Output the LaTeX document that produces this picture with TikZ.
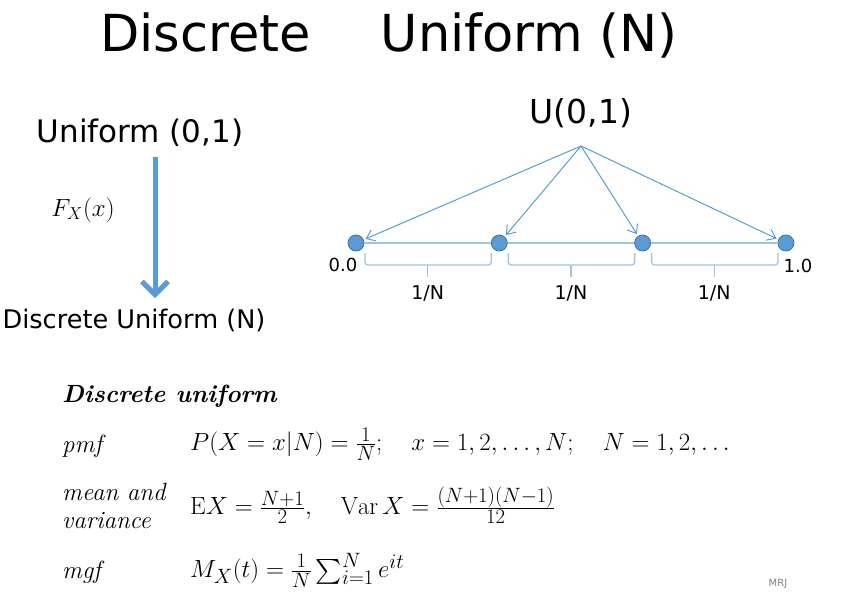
\documentclass[tikz,border=0pt]{standalone}
\usepackage{exscale}
\usepackage{fontspec}
\newfontfamily\verd{DejaVu Sans}
\usetikzlibrary{arrows.meta,calc}
\definecolor{arrblue}{HTML}{5B9BD5}
\definecolor{dotedge}{HTML}{41719C}
\definecolor{lineblue}{HTML}{9DC3E6}
\begin{document}
\begin{tikzpicture}[
        x=1pt, y=-1pt,
        node distance=143.3pt,
        titletxt/.style={font=\verd\fontsize{51}{56}\selectfont},
        sanstxt/.style={font=\verd\fontsize{25.6}{30}\selectfont},
        smalltxt/.style={font=\verd\fontsize{18}{21}\selectfont},
        cmtxt/.style={font=\fontsize{24.88}{28}\selectfont, inner sep=0pt, anchor=west},
        ptdot/.style={circle, fill=arrblue, draw=dotedge, line width=0.8pt, minimum size=16pt, inner sep=0pt},
        segline/.style={draw=lineblue, line width=2pt},
        sharr/.style={-{Straight Barb[length=8pt,width=12pt]}, draw=arrblue, line width=1pt, shorten >=2pt},
        bigarr/.style={-{Straight Barb[length=13pt,width=26pt]}, draw=arrblue, line width=5pt},
        brc/.style={draw=lineblue, line width=1.3pt, rounded corners=3pt}
    ]
        \useasboundingbox (0,0) rectangle (841,605);

        % Title
        \node[titletxt] (title) at (389,35) {Discrete\hspace{70pt}Uniform (N)};

        % Left: transformation
        \node[sanstxt, font=\verd\fontsize{31}{35}\selectfont] (unif) at (140,133) {Uniform (0,1)};
        \node[sanstxt] (disc) at (134,320) {Discrete Uniform (N)};
        \node[font=\fontsize{24}{28}\selectfont] (fx) at (83,210) {$F_X(x)$};
        \coordinate (arrtop) at (155,157);
        \coordinate (arrbot) at (155,298);
        \draw[bigarr] (arrtop) -- (arrbot);

        % Right: points on the unit interval
        \node[font=\verd\fontsize{33}{38}\selectfont] (u01) at (581,113) {U(0,1)};
        \coordinate (apex) at (581,146);
        \node[ptdot] (p0) at (356,243) {};
        \node[ptdot, right of=p0] (p1) {};
        \node[ptdot, right of=p1] (p2) {};
        \node[ptdot, right of=p2] (p3) {};
        \draw[segline] (p0) -- (p1) (p1) -- (p2) (p2) -- (p3);

        \node[smalltxt] (lo) at ($(p0)+(-13,22)$) {0.0};
        \node[smalltxt] (hi) at ($(p3)+(12,23)$) {1.0};

        \foreach \p in {p0,p1,p2,p3}
            \draw[sharr] (apex) -- (\p);

        % Braces
        \foreach \a/\b [count=\i] in {p0/p1,p1/p2,p2/p3} {
            \draw[brc] ($(\a)+(9,10)$) -- ($(\a)+(9,22)$) -- ($(\b)+(-8,22)$) -- ($(\b)+(-8,10)$);
            \draw[brc] ($(\a)!.5!(\b)+(0,22)$) -- ($(\a)!.5!(\b)+(0,34)$);
            \node[smalltxt, font=\verd\fontsize{19}{23}\selectfont] (gap\i) at ($(\a)!.5!(\b)+(0,50)$) {1/N};
        }

        % Table entry
        \node[cmtxt] (hdr) at (62,396) {\textbf{\textit{Discrete uniform}}};
        \node[cmtxt] (pmf) at (62,446) {\textit{pmf}};
        \node[cmtxt] (pmfeq) at (190,444) {$P(X=x|N)=\frac{1}{N};\quad x=1,2,\ldots,N;\quad N=1,2,\ldots$};
        \node[cmtxt, align=left] (mv) at (62,506) {\textit{mean and}\\\textit{variance}};
        \node[cmtxt] (mveq) at (190,505) {$\mathrm{E}X=\frac{N+1}{2},\quad \mathrm{Var}\,X=\frac{(N+1)(N-1)}{12}$};
        \node[cmtxt] (mgf) at (62,572) {\textit{mgf}};
        \node[cmtxt] (mgfeq) at (190,570) {$M_X(t)=\frac{1}{N}\sum_{i=1}^{N}e^{it}$};

        \node[font=\verd\fontsize{10}{12}\selectfont, text=gray] (mrj) at (778,584) {MRJ};
    \end{tikzpicture}
\end{document}
